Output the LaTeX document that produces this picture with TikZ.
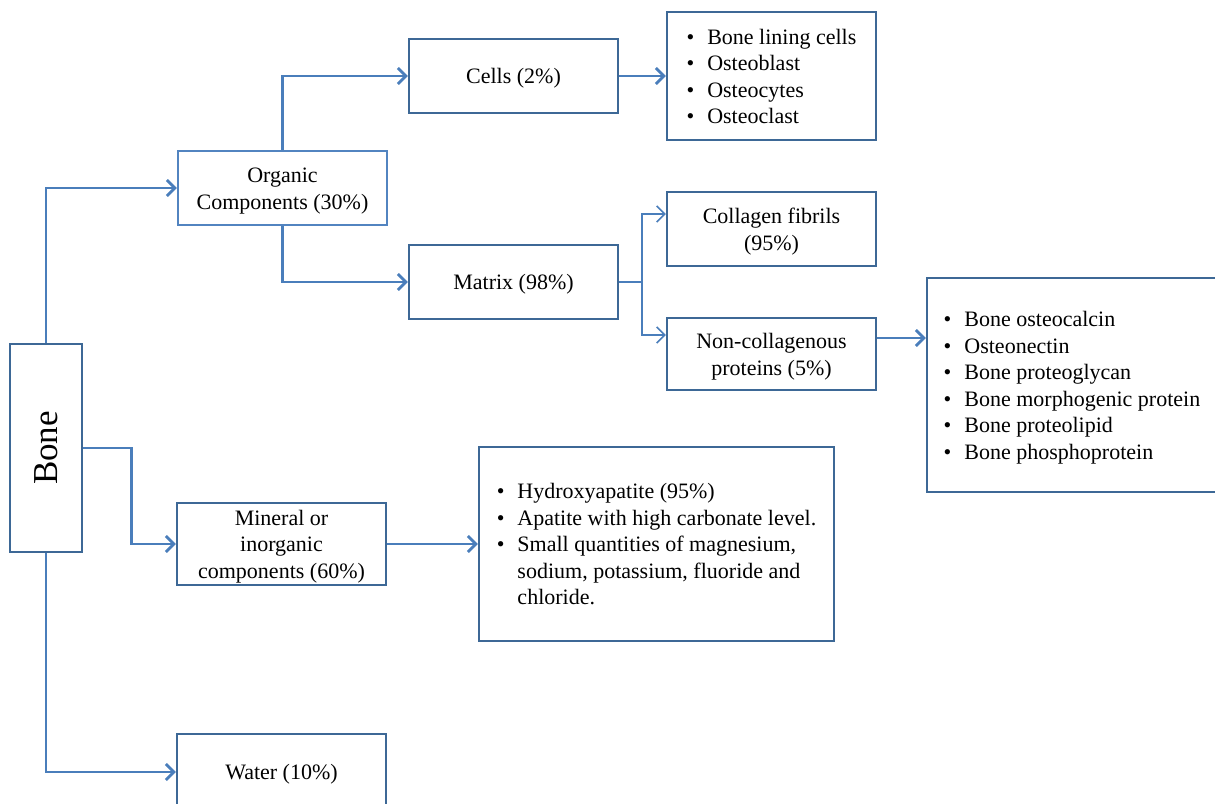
\documentclass[tikz,border=0pt]{standalone}
\usepackage{fontspec}
\setmainfont{Liberation Serif}
\usetikzlibrary{arrows.meta}
\definecolor{linkblue}{HTML}{4A7EBB}
\definecolor{edgeblue}{HTML}{3D6896}
\definecolor{softblue}{HTML}{5284C0}
\newcommand{\lowered}[1]{\raisebox{-2.5pt}[\height][\depth]{#1}}
\newcommand{\bulletlist}[1]{\lowered{\begin{tabular}{@{}l@{\hspace{13pt}}l@{}}#1\end{tabular}}}
\newcommand{\boxlines}[1]{\lowered{\begin{tabular}{@{}c@{}}#1\end{tabular}}}

\begin{document}
\begin{tikzpicture}[x=1pt,y=-1pt,
    box/.style={draw=edgeblue,line width=2.4pt,inner sep=0pt,
      minimum width=209pt,minimum height=74pt,font=\fontsize{22}{26.5}\selectfont},
    listbox/.style={box},
    conn/.style={draw=linkblue,line width=2.8pt,-{Straight Barb[length=8pt,width=16pt]}},
    thin conn/.style={conn,line width=1.6pt}]
  \useasboundingbox (0,0) rectangle (1215,803);
  \node[box,minimum width=72pt,minimum height=208pt] (bone) at (46,448)
    {\fontsize{35}{40}\selectfont\rotatebox{90}{Bone}};
  \node[box,draw=softblue] (organic) at (282.5,188) {\boxlines{Organic\\Components (30\%)}};
  \node[box] (cells) at (513.5,76) {\boxlines{Cells (2\%)}};
  \node[listbox,minimum height=128pt] (cellslist) at (771.5,76)
    {\bulletlist{\textbullet & Bone lining cells\\ \textbullet & Osteoblast\\
      \textbullet & Osteocytes\\ \textbullet & Osteoclast}};
  \node[box] (matrix) at (513.5,282) {\boxlines{Matrix (98\%)}};
  \node[box] (collagen) at (771.5,229) {\boxlines{Collagen fibrils\\(95\%)}};
  \node[box,minimum height=72pt] (noncol) at (771.5,354) {\boxlines{Non-collagenous\\proteins (5\%)}};
  \node[listbox,minimum width=290pt,minimum height=214pt] (nclist) at (1072,385)
    {\bulletlist{\textbullet & Bone osteocalcin\\ \textbullet & Osteonectin\\
      \textbullet & Bone proteoglycan\\ \textbullet & Bone morphogenic protein\\
      \textbullet & Bone proteolipid\\ \textbullet & Bone phosphoprotein}};
  \node[box,minimum height=82pt] (mineral) at (281.5,544) {\boxlines{Mineral or\\inorganic\\components (60\%)}};
  \node[listbox,minimum width=355pt,minimum height=194pt] (minlist) at (656.5,544)
    {\bulletlist{\textbullet & Hydroxyapatite (95\%)\\ \textbullet & Apatite with high carbonate level.\\
      \textbullet & Small quantities of magnesium,\\ & sodium, potassium, fluoride and\\ & chloride.}};
  \node[box,minimum height=76pt] (water) at (281.5,772) {\boxlines{Water (10\%)}};
  % links from bone
  \draw[conn] (bone.north) |- (organic.west);
  \draw[conn] (bone.east) -- ++(48,0) |- (mineral.west);
  \draw[conn] (bone.south) |- (water.west);
  % organic part
  \draw[conn] (organic.north) |- (cells.west);
  \draw[conn] (organic.south) |- (matrix.west);
  \draw[conn] (cells.east) -- (cellslist.west);
  \draw[thin conn,-] (matrix.east) -- ++(23,0) coordinate (split);
  \draw[thin conn] (split) |- ([yshift=15pt]collagen.west);
  \draw[thin conn] (split) |- ([yshift=19pt]noncol.west);
  \draw[conn] ([yshift=16pt]noncol.east) -- ([yshift=16pt]noncol.east -| nclist.west);
  % mineral part
  \draw[conn] (mineral.east) -- (minlist.west);
\end{tikzpicture}
\end{document}
